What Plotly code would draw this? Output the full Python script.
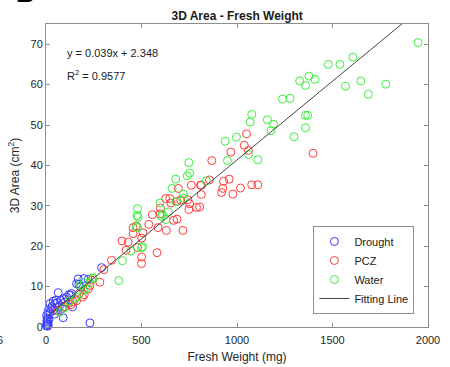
import plotly.graph_objects as go

# ---- data ----
drought_x = [2, 5, 8, 4, 10, 12, 6, 15, 3, 12, 7, 21, 30, 38, 47, 55, 69, 12, 38, 52, 77, 64, 90, 85, 94, 108,
             129, 134, 139, 160, 172, 181, 169, 198, 221, 291, 230, 20, 25, 45, 60, 100, 120]
drought_y = [0.3, 0.8, 0.2, 1.5, 1.2, 0.5, 2.1, 1.8, 2.9, 2.9, 0.7, 5.8, 5.0, 4.1, 5.8, 4.1, 5.0, 4.1, 6.4, 6.6, 6.6, 8.5, 2.3, 4.6, 7.0, 7.4,
             7.9, 8.3, 5.0, 10.7, 10.6, 9.9, 11.9, 12.0, 11.8, 14.7, 1.0, 3.5, 4.5, 3.2, 6.0, 6.2, 8.0]

pcz_x = [64, 117, 143, 130, 174, 191, 221, 239, 282, 230, 303, 100, 150, 200, 160,
         343, 398, 430, 419, 479, 456, 473, 456, 508, 501, 501, 500, 581, 538, 557, 587, 630, 686, 717, 599, 597,
         627, 648, 654, 686, 705, 742, 752, 788, 748, 693, 761, 809, 668,
         856, 813, 813, 804, 930, 959, 926, 919, 978, 1018, 1077, 1109, 868, 968, 1038, 1050, 1060, 1398]
pcz_y = [4.1, 5.8, 6.2, 5.5, 8.3, 7.4, 9.4, 11.6, 11.1, 10.3, 14.2, 5.0, 7.0, 8.0, 6.5,
         16.5, 21.3, 21.0, 19.0, 19.7, 24.6, 25.0, 23.1, 23.3, 22.0, 17.3, 15.7, 18.4, 25.4, 27.8, 24.6, 23.9, 26.7, 23.9, 29.4, 28.0,
         31.8, 31.8, 30.7, 31.1, 31.4, 31.5, 30.5, 29.6, 29.1, 34.3, 35.1, 35.1, 26.4,
         36.4, 35.1, 32.8, 29.7, 36.1, 36.6, 34.3, 33.3, 32.9, 34.4, 35.2, 35.2, 41.2, 43.3, 45.0, 47.8, 43.7, 43.0]

water_x = [73, 90, 125, 160, 178, 195, 209, 230, 244, 247, 150, 200,
           381, 400, 444, 500, 505, 479, 477, 482, 473, 479, 597, 604, 609, 628, 660, 679, 719, 720, 740, 752, 748, 839, 680, 640,
           938, 997, 950, 1060, 1109, 1077, 1069, 1159, 1191, 1178, 1238, 1278, 1299, 1358, 1370, 1358, 1328, 1359, 1377, 1408,
           1478, 1539, 1607, 1568, 1648, 1779, 1688, 1948]
water_y = [3.7, 4.6, 6.4, 7.4, 10.3, 9.0, 9.5, 10.9, 12.2, 12.0, 7.0, 11.0,
           11.5, 16.4, 18.8, 19.6, 19.9, 29.3, 27.6, 27.2, 24.8, 24.6, 30.7, 27.4, 27.9, 26.6, 34.3, 36.6, 32.9, 31.9, 37.4, 38.1, 40.7, 36.2, 31.0, 28.5,
           46.0, 47.0, 41.2, 42.7, 41.4, 52.6, 50.7, 51.3, 50.2, 48.6, 56.4, 56.6, 47.1, 52.4, 52.4, 49.3, 60.9, 59.8, 62.1, 61.3,
           65.0, 65.0, 66.8, 59.6, 60.9, 60.1, 57.6, 70.4]

fit_slope = 0.039
fit_intercept = 2.348
fit_r2 = 0.9577
fit_x = [0, 1948]

x_ticks = [0, 500, 1000, 1500, 2000]
y_ticks = [0, 10, 20, 30, 40, 50, 60, 70]

FONT = "Liberation Sans, Arial, Helvetica, sans-serif"

fig = go.Figure()

def add_group(name, xs, ys, color):
    fig.add_trace(go.Scatter(
        x=xs, y=ys, mode="markers", name=name,
        marker=dict(symbol="circle-open", size=8, color=color, line=dict(width=1, color=color)),
        cliponaxis=False,
    ))

add_group("Drought", drought_x, drought_y, "#3a3aff")
add_group("PCZ", pcz_x, pcz_y, "#ff3a3a")
add_group("Water", water_x, water_y, "#3aee3a")

fig.add_trace(go.Scatter(
    x=fit_x, y=[fit_slope * v + fit_intercept for v in fit_x],
    mode="lines", name="Fitting Line", line=dict(color="#444444", width=1),
))

axis_common = dict(
    showline=True, linecolor="#8c8c8c", linewidth=1, mirror="ticks", automargin=False,
    ticks="inside", ticklen=4, tickcolor="#8c8c8c", showgrid=False, zeroline=False,
    tickfont=dict(family=FONT, size=11, color="#262626"),
)

fig.update_layout(
    width=450, height=367,
    margin=dict(l=46, r=22, t=24, b=40, autoexpand=False),
    paper_bgcolor="white", plot_bgcolor="white",
    title=dict(text="<b>3D Area - Fresh Weight</b>", x=0.527, xanchor="center", y=0.958, yanchor="middle",
               font=dict(family=FONT, size=12, color="#1a1a1a")),
    xaxis=dict(range=[0, 2000], tickvals=x_ticks, ticklabelstandoff=3, **axis_common,
               title=dict(text="Fresh Weight (mg)", font=dict(family=FONT, size=12, color="#262626"), standoff=7)),
    yaxis=dict(range=[0, 75], tickvals=y_ticks, **axis_common,
               title=dict(text="3D Area (cm<sup>2</sup>)", font=dict(family=FONT, size=12, color="#262626"), standoff=8)),
    legend=dict(x=0.70, y=0.043, xanchor="left", yanchor="bottom", bgcolor="white",
                bordercolor="#8c8c8c", borderwidth=1, font=dict(family=FONT, size=11, color="#1a1a1a"),
                tracegroupgap=0, itemwidth=30),
    showlegend=True,
    annotations=[
        dict(xref="paper", yref="paper", x=0.05, y=0.904, xanchor="left", yanchor="middle", showarrow=False,
             text=f"y = {fit_slope}x + {fit_intercept}", font=dict(family=FONT, size=11, color="#1a1a1a")),
        dict(xref="paper", yref="paper", x=0.05, y=0.832, xanchor="left", yanchor="middle", showarrow=False,
             text=f"R<sup>2</sup> = {fit_r2}", font=dict(family=FONT, size=11, color="#1a1a1a")),
        dict(xref="paper", yref="paper", x=-0.084, y=1.046, xanchor="left", yanchor="bottom", showarrow=False,
             text="<b>B</b>", font=dict(family=FONT, size=26, color="black")),
        dict(xref="paper", yref="paper", x=-0.107, y=-0.043, xanchor="right", yanchor="middle", showarrow=False,
             text="6", font=dict(family=FONT, size=11, color="#262626")),
    ],
)

fig.write_html("out.html", config={"displayModeBar": False},
               post_script="document.body.style.margin='0px';document.body.style.overflow='hidden';")
